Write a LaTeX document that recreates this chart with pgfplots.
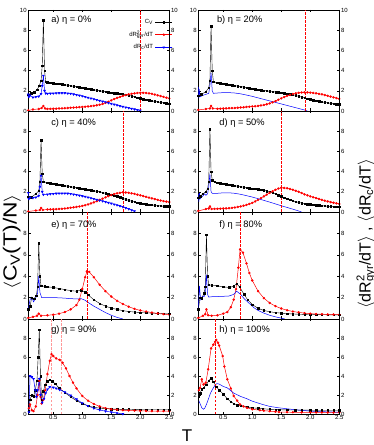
\documentclass[border=0pt]{standalone}
\usepackage{fontspec}
\setmainfont{Liberation Sans}
\usepackage{pgfplots}
\pgfplotsset{compat=1.18}

\newcommand{\supsub}[2]{\rlap{\textsuperscript{#1}}\textsubscript{#2}}

\tikzset{plab/.style={anchor=west, font=\fontsize{9.3}{10}\selectfont}}
\pgfplotsset{
  pan/.style={
    scale only axis, width=141pt, anchor=south west,
    xmin=0.07, xmax=2.5, ymin=0, ymax=10,
    xtick={0.5,1.0,1.5,2.0,2.5}, xticklabels={},
    ytick={0,2,...,8},
    tick align=inside, major tick length=2.5pt,
    tick style={black, line width=0.4pt},
    axis line style={line width=0.5pt},
    /pgf/number format/assume math mode=true,
    tick label style={font=\fontsize{6}{6}\selectfont},
    yticklabel style={inner sep=1.5pt},
    xticklabel style={inner sep=1.5pt},
  },
  rside/.style={pan, axis x line=none, axis y line*=right,
    yticklabel pos=right},
  cv/.style={black, line width=0.4pt, mark=square*, mark size=0.75pt},
  rg/.style={red, line width=0.5pt, mark=*, mark size=0.95pt},
  rc/.style={blue, line width=0.5pt, mark=triangle*, mark size=1.1pt,
    mark options={rotate=180}},
  rcl/.style={blue, line width=0.5pt},
  tcrit/.style={draw=red, dash pattern=on 2.5pt off 1.5pt, line width=0.75pt,
    forget plot},
}

\begin{document}
\begin{tikzpicture}[x=1pt,y=1pt]
\useasboundingbox (0,0) rectangle (374,445);

% ---------------- a) eta = 0%
\begin{axis}[pan, at={(28.3pt,334pt)}, height=101pt, ytick={0,2,...,10},
  legend style={draw=none, fill=none, at={(1.025,0.93)}, anchor=north east,
    font=\fontsize{6}{7}\selectfont, row sep=2pt, inner sep=0pt},
  legend plot pos=right, legend cell align=right]
\addplot[cv] coordinates {
  (0.07,1.6)(0.12,1.75)(0.17,1.85)(0.22,2.1)(0.26,2.5)(0.29,3.0)(0.31,4.5)
  (0.33,9.0)(0.35,4.0)(0.37,2.9)(0.4,2.85)(0.45,2.8)(0.5,2.75)(0.55,2.72)
  (0.6,2.7)(0.65,2.65)(0.7,2.6)(0.75,2.55)(0.8,2.5)(0.85,2.45)(0.9,2.4)
  (0.95,2.35)(1.0,2.3)(1.05,2.25)(1.1,2.2)(1.15,2.15)(1.2,2.1)(1.25,2.05)
  (1.3,2.0)(1.35,1.95)(1.4,1.9)(1.45,1.86)(1.5,1.82)(1.55,1.78)(1.6,1.75)
  (1.65,1.7)(1.7,1.65)(1.75,1.6)(1.8,1.55)(1.85,1.48)(1.9,1.4)(1.95,1.32)
  (2.0,1.25)(2.05,1.18)(2.1,1.12)(2.15,1.06)(2.2,1.0)(2.25,0.95)(2.3,0.9)
  (2.35,0.85)(2.4,0.8)(2.45,0.76)(2.5,0.72)};
\addlegendentry{C\textsubscript{V}}
\addplot[rg] coordinates {
  (0.07,0.05)(0.15,0.15)(0.25,0.2)(0.3,0.3)(0.33,0.5)(0.36,0.25)(0.4,0.2)
  (0.45,0.21)(0.5,0.22)(0.55,0.23)(0.6,0.25)(0.65,0.26)(0.7,0.28)(0.75,0.3)
  (0.8,0.32)(0.85,0.34)(0.9,0.36)(0.95,0.38)(1.0,0.4)(1.05,0.42)(1.1,0.45)
  (1.15,0.48)(1.2,0.52)(1.25,0.57)(1.3,0.62)(1.35,0.7)(1.4,0.8)(1.45,0.92)
  (1.5,1.05)(1.55,1.18)(1.6,1.3)(1.65,1.4)(1.7,1.5)(1.75,1.58)(1.8,1.65)
  (1.85,1.7)(1.9,1.75)(1.95,1.78)(2.0,1.8)(2.05,1.8)(2.1,1.78)(2.15,1.75)
  (2.2,1.7)(2.25,1.63)(2.3,1.55)(2.35,1.48)(2.4,1.4)(2.45,1.32)(2.5,1.25)};
\addlegendentry{dR\supsub{2}{gyr}/dT}
\addplot[rc] coordinates {
  (0.07,1.65)(0.08,1.4)(0.1,1.55)(0.15,1.35)(0.2,1.4)(0.25,1.45)(0.29,1.7)
  (0.31,2.5)(0.33,3.5)(0.35,2.0)(0.37,1.75)(0.4,1.72)(0.45,1.74)(0.5,1.75)
  (0.55,1.77)(0.6,1.78)(0.65,1.78)(0.7,1.78)(0.75,1.75)(0.8,1.72)(0.85,1.66)
  (0.9,1.6)(0.95,1.54)(1.0,1.48)(1.05,1.4)(1.1,1.32)(1.15,1.25)(1.2,1.18)
  (1.25,1.1)(1.3,1.02)(1.35,0.95)(1.4,0.88)(1.45,0.8)(1.5,0.72)(1.55,0.65)
  (1.6,0.58)(1.65,0.5)(1.7,0.43)(1.75,0.36)(1.8,0.3)(1.85,0.23)(1.9,0.17)
  (1.95,0.1)(2.0,0.05)};
\addlegendentry{dR\textsubscript{c}/dT}
\addplot[tcrit] coordinates {(2.0,0)(2.0,10)};
\node[plab] at (rel axis cs:0.138,0.9) {a) η = 0\%};
\end{axis}
\begin{axis}[rside, at={(28.3pt,334pt)}, height=101pt, ytick={0,2,...,10}]
\end{axis}

% ---------------- b) eta = 20%
\begin{axis}[pan, at={(198.3pt,334pt)}, height=101pt, ytick={0,2,...,10}]
\addplot[cv] coordinates {
  (0.07,1.5)(0.12,1.65)(0.2,1.9)(0.25,2.3)(0.27,3.0)(0.29,8.4)(0.31,4.0)
  (0.33,2.9)(0.4,2.8)(0.45,2.75)(0.5,2.7)(0.55,2.65)(0.6,2.6)(0.65,2.55)
  (0.7,2.5)(0.75,2.46)(0.8,2.42)(0.85,2.37)(0.9,2.32)(0.95,2.27)(1.0,2.22)
  (1.05,2.17)(1.1,2.12)(1.15,2.08)(1.2,2.03)(1.25,1.99)(1.3,1.95)(1.35,1.92)
  (1.4,1.88)(1.45,1.84)(1.5,1.8)(1.55,1.76)(1.6,1.72)(1.65,1.67)(1.7,1.62)
  (1.75,1.54)(1.8,1.45)(1.85,1.38)(1.9,1.3)(1.95,1.22)(2.0,1.15)(2.05,1.08)
  (2.1,1.0)(2.15,0.95)(2.2,0.9)(2.25,0.85)(2.3,0.8)(2.35,0.76)(2.4,0.72)
  (2.45,0.68)(2.5,0.65)};
\addplot[rg] coordinates {
  (0.07,0.1)(0.2,0.2)(0.27,0.25)(0.29,0.5)(0.32,0.25)(0.4,0.22)(0.45,0.23)
  (0.5,0.25)(0.55,0.26)(0.6,0.28)(0.65,0.29)(0.7,0.3)(0.75,0.32)(0.8,0.35)
  (0.85,0.37)(0.9,0.4)(0.95,0.42)(1.0,0.45)(1.05,0.47)(1.1,0.5)(1.15,0.55)
  (1.2,0.6)(1.25,0.67)(1.3,0.75)(1.35,0.86)(1.4,0.98)(1.45,1.12)(1.5,1.25)
  (1.55,1.38)(1.6,1.5)(1.65,1.6)(1.7,1.68)(1.75,1.75)(1.8,1.8)(1.85,1.83)
  (1.9,1.85)(1.95,1.84)(2.0,1.82)(2.05,1.79)(2.1,1.75)(2.15,1.7)(2.2,1.65)
  (2.25,1.58)(2.3,1.5)(2.35,1.43)(2.4,1.35)(2.45,1.28)(2.5,1.2)};
\addplot[rcl] coordinates {
  (0.07,1.5)(0.075,2.4)(0.08,1.3)(0.085,2.2)(0.1,1.4)(0.15,1.55)(0.2,1.65)
  (0.25,1.75)(0.27,2.5)(0.29,3.8)(0.31,2.0)(0.33,1.75)(0.4,1.78)(0.5,1.82)
  (0.6,1.82)(0.7,1.78)(0.8,1.7)(0.9,1.58)(1.0,1.45)(1.1,1.3)(1.2,1.15)
  (1.3,1.0)(1.4,0.85)(1.5,0.7)(1.6,0.55)(1.7,0.4)(1.8,0.25)(1.9,0.1)
  (1.95,0.0)};
\addplot[tcrit] coordinates {(1.92,0)(1.92,10)};
\node[plab] at (rel axis cs:0.108,0.9) {b) η = 20\%};
\end{axis}
\begin{axis}[rside, at={(198.3pt,334pt)}, height=101pt, ytick={0,2,...,10}]
\end{axis}

% ---------------- c) eta = 40%
\begin{axis}[pan, at={(28.3pt,233pt)}, height=101pt]
\addplot[cv] coordinates {
  (0.07,1.5)(0.12,1.45)(0.2,1.8)(0.25,2.1)(0.27,3.0)(0.29,7.1)(0.31,3.8)
  (0.33,3.0)(0.4,2.9)(0.45,2.85)(0.5,2.8)(0.55,2.75)(0.6,2.7)(0.65,2.65)
  (0.7,2.6)(0.75,2.55)(0.8,2.5)(0.85,2.45)(0.9,2.4)(0.95,2.35)(1.0,2.3)
  (1.05,2.25)(1.1,2.2)(1.15,2.15)(1.2,2.1)(1.25,2.05)(1.3,2.0)(1.35,1.93)
  (1.4,1.85)(1.45,1.78)(1.5,1.7)(1.55,1.62)(1.6,1.55)(1.65,1.45)(1.7,1.35)
  (1.75,1.25)(1.8,1.15)(1.85,1.07)(1.9,1.0)(1.95,0.94)(2.0,0.88)(2.05,0.83)
  (2.1,0.78)(2.15,0.74)(2.2,0.7)(2.25,0.66)(2.3,0.63)(2.35,0.6)(2.4,0.58)
  (2.45,0.56)(2.5,0.55)};
\addplot[rg] coordinates {
  (0.07,0.05)(0.2,0.15)(0.27,0.2)(0.29,0.4)(0.32,0.2)(0.4,0.25)(0.45,0.26)
  (0.5,0.27)(0.55,0.28)(0.6,0.3)(0.65,0.32)(0.7,0.35)(0.75,0.38)(0.8,0.42)
  (0.85,0.46)(0.9,0.5)(0.95,0.55)(1.0,0.6)(1.05,0.67)(1.1,0.75)(1.15,0.85)
  (1.2,0.95)(1.25,1.07)(1.3,1.2)(1.35,1.32)(1.4,1.45)(1.45,1.57)(1.5,1.68)
  (1.55,1.77)(1.6,1.85)(1.65,1.9)(1.7,1.95)(1.75,1.93)(1.8,1.9)(1.85,1.85)
  (1.9,1.8)(1.95,1.72)(2.0,1.65)(2.05,1.58)(2.1,1.5)(2.15,1.42)(2.2,1.35)
  (2.25,1.28)(2.3,1.2)(2.35,1.14)(2.4,1.08)(2.45,1.03)(2.5,0.98)};
\addplot[rc] coordinates {
  (0.07,1.9)(0.08,1.3)(0.1,1.45)(0.15,1.4)(0.2,1.45)(0.25,1.6)(0.27,2.5)
  (0.29,3.6)(0.31,2.0)(0.33,1.72)(0.4,1.75)(0.45,1.78)(0.5,1.8)(0.55,1.83)
  (0.6,1.85)(0.65,1.85)(0.7,1.85)(0.75,1.83)(0.8,1.8)(0.85,1.75)(0.9,1.7)
  (0.95,1.64)(1.0,1.58)(1.05,1.52)(1.1,1.45)(1.15,1.38)(1.2,1.3)(1.25,1.22)
  (1.3,1.15)(1.35,1.08)(1.4,1.0)(1.45,0.92)(1.5,0.85)(1.55,0.76)(1.6,0.68)
  (1.65,0.59)(1.7,0.5)(1.75,0.4)(1.8,0.3)(1.85,0.19)(1.9,0.08)};
\addplot[tcrit] coordinates {(1.71,0)(1.71,10)};
\node[plab] at (rel axis cs:0.138,0.885) {c) η = 40\%};
\end{axis}
\begin{axis}[rside, at={(28.3pt,233pt)}, height=101pt]
\end{axis}

% ---------------- d) eta = 50%
\begin{axis}[pan, at={(198.3pt,233pt)}, height=101pt]
\addplot[cv] coordinates {
  (0.07,1.4)(0.1,1.55)(0.15,1.8)(0.2,2.0)(0.23,2.3)(0.25,3.0)(0.27,8.2)
  (0.29,4.0)(0.31,3.15)(0.35,3.0)(0.4,2.9)(0.45,2.85)(0.5,2.8)(0.55,2.75)
  (0.6,2.7)(0.65,2.65)(0.7,2.6)(0.75,2.55)(0.8,2.5)(0.85,2.46)(0.9,2.42)
  (0.95,2.38)(1.0,2.33)(1.05,2.29)(1.1,2.25)(1.15,2.2)(1.2,2.15)(1.25,2.08)
  (1.3,2.0)(1.35,1.9)(1.4,1.8)(1.45,1.68)(1.5,1.55)(1.55,1.42)(1.6,1.3)
  (1.65,1.2)(1.7,1.1)(1.75,1.02)(1.8,0.95)(1.85,0.89)(1.9,0.83)(1.95,0.79)
  (2.0,0.75)(2.05,0.71)(2.1,0.68)(2.15,0.65)(2.2,0.62)(2.25,0.6)(2.3,0.57)
  (2.35,0.55)(2.4,0.53)(2.45,0.51)(2.5,0.5)};
\addplot[rg] coordinates {
  (0.07,0.1)(0.2,0.3)(0.25,0.35)(0.27,0.55)(0.3,0.3)(0.35,0.31)(0.4,0.32)
  (0.45,0.33)(0.5,0.35)(0.55,0.36)(0.6,0.38)(0.65,0.41)(0.7,0.45)(0.75,0.5)
  (0.8,0.55)(0.85,0.62)(0.9,0.7)(0.95,0.8)(1.0,0.9)(1.05,1.05)(1.1,1.2)
  (1.15,1.37)(1.2,1.55)(1.25,1.72)(1.3,1.9)(1.35,2.05)(1.4,2.2)(1.45,2.32)
  (1.5,2.4)(1.55,2.38)(1.6,2.35)(1.65,2.28)(1.7,2.2)(1.75,2.1)(1.8,2.0)
  (1.85,1.88)(1.9,1.75)(1.95,1.65)(2.0,1.55)(2.05,1.46)(2.1,1.38)(2.15,1.29)
  (2.2,1.2)(2.25,1.12)(2.3,1.05)(2.35,0.98)(2.4,0.92)(2.45,0.86)(2.5,0.8)};
\addplot[rcl] coordinates {
  (0.07,1.2)(0.075,1.8)(0.08,1.0)(0.09,1.9)(0.1,1.3)(0.15,1.6)(0.18,1.8)
  (0.2,1.65)(0.23,1.8)(0.25,2.5)(0.27,3.8)(0.29,2.0)(0.31,1.85)(0.4,1.85)
  (0.5,1.9)(0.6,1.9)(0.7,1.85)(0.8,1.75)(0.9,1.62)(1.0,1.48)(1.1,1.32)
  (1.2,1.15)(1.3,0.98)(1.4,0.8)(1.5,0.62)(1.6,0.45)(1.7,0.28)(1.8,0.1)
  (1.85,0.0)};
\addplot[tcrit] coordinates {(1.5,0)(1.5,10)};
\node[plab] at (rel axis cs:0.125,0.885) {d) η = 50\%};
\end{axis}
\begin{axis}[rside, at={(198.3pt,233pt)}, height=101pt]
\end{axis}

% ---------------- e) eta = 70%
\begin{axis}[pan, at={(28.3pt,126pt)}, height=107pt]
\addplot[cv] coordinates {
  (0.07,0.9)(0.1,1.2)(0.13,2.0)(0.17,1.9)(0.21,2.2)(0.23,3.0)(0.25,7.1)
  (0.27,4.0)(0.29,3.1)(0.35,3.05)(0.4,3.0)(0.5,2.95)(0.6,2.85)(0.7,2.75)
  (0.8,2.65)(0.9,2.6)(0.98,2.7)(1.05,2.5)(1.1,2.25)(1.2,1.8)(1.3,1.45)
  (1.4,1.2)(1.5,1.02)(1.6,0.9)(1.7,0.78)(1.8,0.7)(1.9,0.65)(2.0,0.6)
  (2.1,0.57)(2.2,0.55)(2.3,0.52)(2.4,0.5)(2.5,0.48)};
\addplot[rg] coordinates {
  (0.07,0.1)(0.15,0.2)(0.22,0.3)(0.25,0.5)(0.29,0.3)(0.4,0.35)(0.5,0.4)
  (0.6,0.5)(0.7,0.65)(0.8,0.9)(0.9,1.3)(0.95,1.8)(1.0,2.8)(1.05,3.9)
  (1.08,4.45)(1.12,4.4)(1.2,3.9)(1.3,3.2)(1.4,2.6)(1.5,2.1)(1.6,1.7)
  (1.7,1.4)(1.8,1.15)(1.9,0.95)(2.0,0.8)(2.1,0.7)(2.2,0.6)(2.3,0.52)
  (2.4,0.45)(2.5,0.4)};
\addplot[rcl] coordinates {
  (0.07,0.9)(0.1,1.8)(0.13,2.05)(0.16,1.6)(0.2,2.0)(0.23,2.4)(0.25,4.0)
  (0.27,2.5)(0.3,2.0)(0.4,2.0)(0.5,2.0)(0.6,1.98)(0.7,1.95)(0.8,1.9)
  (0.9,1.88)(0.98,1.9)(1.05,1.75)(1.1,1.55)(1.2,1.2)(1.3,0.9)(1.4,0.6)
  (1.5,0.35)(1.6,0.15)(1.7,0.0)};
\addplot[tcrit] coordinates {(1.08,0)(1.08,10)};
\node[plab] at (rel axis cs:0.138,0.878) {e) η = 70\%};
\end{axis}
\begin{axis}[rside, at={(28.3pt,126pt)}, height=107pt]
\end{axis}

% ---------------- f) eta = 80%
\begin{axis}[pan, at={(198.3pt,126pt)}, height=107pt]
\addplot[cv] coordinates {
  (0.07,0.9)(0.1,2.0)(0.13,1.95)(0.17,2.4)(0.19,3.0)(0.21,7.9)(0.23,4.0)
  (0.25,3.2)(0.3,3.15)(0.4,3.1)(0.5,3.0)(0.6,2.95)(0.68,3.05)(0.73,3.3)
  (0.78,3.0)(0.86,2.3)(0.92,1.8)(1.0,1.35)(1.1,1.0)(1.2,0.8)(1.3,0.68)
  (1.4,0.6)(1.5,0.55)(1.6,0.5)(1.7,0.47)(1.8,0.45)(1.9,0.43)(2.0,0.42)
  (2.1,0.41)(2.2,0.4)(2.3,0.39)(2.4,0.38)(2.5,0.38)};
\addplot[rg] coordinates {
  (0.07,0.1)(0.15,0.3)(0.19,0.45)(0.21,0.9)(0.24,0.35)(0.3,0.3)(0.4,0.35)
  (0.5,0.5)(0.57,0.65)(0.63,1.1)(0.68,1.8)(0.72,2.8)(0.76,4.8)(0.79,6.5)
  (0.84,6.2)(0.9,5.2)(0.95,4.3)(1.0,3.6)(1.1,2.6)(1.2,1.95)(1.3,1.5)
  (1.4,1.2)(1.5,0.98)(1.6,0.82)(1.7,0.7)(1.8,0.62)(1.9,0.55)(2.0,0.5)
  (2.1,0.47)(2.2,0.45)(2.3,0.43)(2.4,0.42)(2.5,0.4)};
\addplot[rcl] coordinates {
  (0.07,0.9)(0.09,3.1)(0.11,1.8)(0.14,2.1)(0.17,2.1)(0.19,2.5)(0.21,4.15)
  (0.23,2.3)(0.25,2.05)(0.3,2.08)(0.4,2.1)(0.5,2.12)(0.6,2.15)(0.68,2.3)
  (0.73,2.6)(0.8,2.3)(0.86,1.9)(0.95,1.45)(1.03,1.05)(1.1,0.8)(1.2,0.55)
  (1.3,0.35)(1.4,0.2)(1.5,0.08)(1.56,0.0)};
\addplot[tcrit] coordinates {(0.8,0)(0.8,10)};
\node[plab] at (rel axis cs:0.125,0.878) {f) η = 80\%};
\end{axis}
\begin{axis}[rside, at={(198.3pt,126pt)}, height=107pt]
\end{axis}

% ---------------- g) eta = 90%
\begin{axis}[pan, at={(28.3pt,31pt)}, height=95pt,
  xticklabels={0.5,1.0,1.5,2.0,2.5}]
\addplot[cv] coordinates {
  (0.08,0.3)(0.1,1.5)(0.13,2.0)(0.16,1.85)(0.19,2.5)(0.22,3.5)(0.24,6.0)
  (0.26,8.9)(0.28,4.0)(0.3,1.5)(0.33,2.4)(0.36,3.1)(0.4,3.45)(0.44,3.6)
  (0.48,3.45)(0.53,3.2)(0.6,2.75)(0.7,2.25)(0.8,1.8)(0.9,1.4)(1.0,1.1)
  (1.1,0.85)(1.2,0.7)(1.3,0.62)(1.4,0.57)(1.5,0.53)(1.6,0.5)(1.7,0.49)
  (1.8,0.48)(1.9,0.46)(2.0,0.45)(2.1,0.45)(2.2,0.45)(2.3,0.45)(2.4,0.45)
  (2.5,0.45)};
\addplot[rg] coordinates {
  (0.08,0.6)(0.1,1.0)(0.13,0.4)(0.16,0.3)(0.2,0.8)(0.23,2.0)(0.26,3.5)
  (0.28,1.8)(0.3,1.1)(0.33,1.5)(0.36,2.5)(0.4,4.2)(0.44,5.6)(0.47,6.3)
  (0.5,6.1)(0.55,5.85)(0.61,5.7)(0.66,5.4)(0.72,4.8)(0.78,4.0)(0.84,3.3)
  (0.9,2.7)(1.0,1.9)(1.1,1.4)(1.2,1.05)(1.3,0.8)(1.4,0.62)(1.5,0.5)
  (1.6,0.45)(1.7,0.4)(1.8,0.37)(1.9,0.35)(2.0,0.33)(2.1,0.32)(2.2,0.3)
  (2.3,0.3)(2.4,0.3)(2.5,0.3)};
\addplot[rc] coordinates {
  (0.08,0.2)(0.1,4.0)(0.13,3.9)(0.16,3.7)(0.19,2.5)(0.21,1.8)(0.23,2.5)
  (0.26,3.7)(0.28,2.0)(0.31,1.2)(0.34,1.6)(0.37,2.2)(0.4,2.6)(0.44,2.85)
  (0.5,2.8)(0.55,2.7)(0.61,2.55)(0.7,2.3)(0.8,1.95)(0.9,1.55)(1.0,1.15)
  (1.1,0.85)(1.2,0.6)(1.3,0.42)(1.4,0.3)(1.5,0.2)(1.6,0.1)(1.7,0.0)};
\addplot[tcrit, draw=red!40] coordinates {(0.47,0)(0.47,10)};
\addplot[tcrit, draw=red!40] coordinates {(0.64,0)(0.64,10)};
\node[plab] at (rel axis cs:0.138,0.884) {g) η = 90\%};
\end{axis}
\begin{axis}[rside, at={(28.3pt,31pt)}, height=95pt]
\end{axis}

% ---------------- h) eta = 100%
\begin{axis}[pan, at={(198.3pt,31pt)}, height=95pt,
  xticklabels={0.5,1.0,1.5,2.0,2.5}]
\addplot[cv] coordinates {
  (0.08,1.9)(0.1,2.2)(0.13,2.6)(0.16,2.75)(0.21,3.1)(0.25,3.5)(0.29,3.75)
  (0.33,3.4)(0.38,2.9)(0.43,2.5)(0.5,2.1)(0.57,1.6)(0.63,1.3)(0.68,1.1)
  (0.74,0.95)(0.8,0.85)(0.91,0.75)(1.0,0.65)(1.1,0.6)(1.18,0.55)(1.3,0.5)
  (1.4,0.47)(1.46,0.45)(1.6,0.43)(1.74,0.42)(1.85,0.41)(2.0,0.4)(2.1,0.4)
  (2.2,0.4)(2.3,0.4)(2.4,0.4)(2.5,0.4)};
\addplot[rg] coordinates {
  (0.08,2.5)(0.1,2.75)(0.13,3.65)(0.16,3.1)(0.2,3.3)(0.24,4.7)(0.29,6.9)
  (0.33,7.3)(0.36,7.6)(0.38,7.8)(0.41,7.5)(0.43,7.2)(0.49,6.1)(0.52,5.0)
  (0.57,3.65)(0.63,2.7)(0.68,1.9)(0.74,1.4)(0.79,1.0)(0.85,0.8)(0.91,0.65)
  (1.0,0.5)(1.13,0.4)(1.2,0.35)(1.3,0.3)(1.4,0.24)(1.46,0.2)(1.6,0.19)
  (1.7,0.18)(1.85,0.17)(2.0,0.17)(2.1,0.16)(2.2,0.16)(2.3,0.15)(2.4,0.15)
  (2.5,0.15)};
\addplot[rcl] coordinates {
  (0.08,1.4)(0.1,1.1)(0.13,0.65)(0.16,0.5)(0.18,0.6)(0.21,1.0)(0.24,1.5)
  (0.28,2.2)(0.32,2.65)(0.36,3.05)(0.39,3.2)(0.43,3.15)(0.5,2.9)(0.57,2.75)
  (0.68,2.2)(0.8,1.85)(0.91,1.6)(1.0,1.35)(1.18,1.0)(1.3,0.8)(1.46,0.65)
  (1.6,0.55)(1.74,0.45)(2.0,0.3)(2.2,0.25)(2.43,0.2)(2.5,0.19)};
\addplot[tcrit] coordinates {(0.37,0)(0.37,10)};
\node[plab] at (rel axis cs:0.125,0.884) {h) η = 100\%};
\end{axis}
\begin{axis}[rside, at={(198.3pt,31pt)}, height=95pt]
\end{axis}

% ---------------- outer labels
\node[rotate=90, font=\fontsize{19}{19}\selectfont] at (12,203)
  {\scalebox{1.2}[1]{$\langle$C\textsubscript{V}(T)/N$\rangle$}};
\node[rotate=90, font=\fontsize{16}{16}\selectfont] at (366,211)
  {$\langle$dR\supsub{2}{gyr}/dT$\rangle$ , $\langle$dR\textsubscript{c}/dT$\rangle$};
\node[font=\fontsize{17}{17}\selectfont] at (187,9) {T};
\end{tikzpicture}
\end{document}
